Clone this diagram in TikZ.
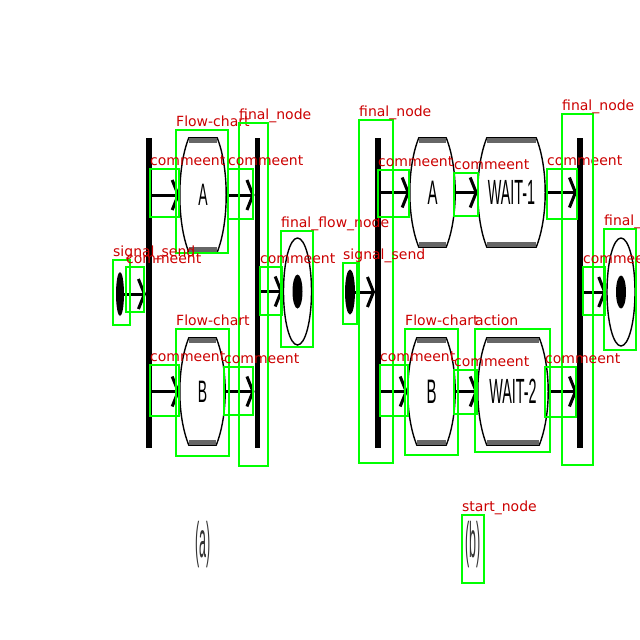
\documentclass[tikz,border=0pt]{standalone}
\usepackage{fontspec}
\setmainfont{Liberation Sans}
\newfontfamily\labfont{DejaVu Sans}
\usetikzlibrary{arrows.meta,calc,shapes.geometric}
\definecolor{annogreen}{RGB}{0,255,0}
\definecolor{annored}{RGB}{204,0,0}
\tikzset{
  barnode/.style={rectangle,fill=black,draw=none,inner sep=0pt,minimum width=5.5pt,minimum height=310pt},
  actnode/.style={rectangle,draw=none,inner sep=0pt},
  barrelline/.style={line width=1.4pt,black},
  capbar/.style={line width=4.5pt,black!60},
  flowline/.style={line width=3pt,-{Straight Barb[length=6pt,width=30pt]}},
  sigshape/.style={ellipse,fill=black,draw=none,inner sep=0pt},
  finouter/.style={ellipse,draw=black,line width=1.4pt,inner sep=0pt},
  fininner/.style={ellipse,fill=black,draw=none,inner sep=0pt},
  annobox/.style={draw=annogreen,line width=2pt},
  annolabel/.style={anchor=base west,inner sep=0pt,text=annored,font=\labfont\fontsize{14}{14}\selectfont},
  caplabel/.style={inner sep=0pt,text=black!80}
}
\newcommand\acttext[3]{\scalebox{#1}[1]{\fontsize{#2}{#2}\selectfont #3}}
\newcommand\drawbarrel[1]{%
  \draw[barrelline] ($(#1.north west)+(9,0)$) -- ($(#1.north east)+(-9,0)$)
    .. controls ($(#1.north east)+(3,30)$) and ($(#1.south east)+(3,-30)$) .. ($(#1.south east)+(-9,0)$)
    -- ($(#1.south west)+(9,0)$)
    .. controls ($(#1.south west)+(-3,-30)$) and ($(#1.north west)+(-3,30)$) .. cycle;
  \draw[capbar] ($(#1.north west)+(9,2.5)$) -- ($(#1.north east)+(-9,2.5)$);
  \draw[capbar] ($(#1.south west)+(9,-2.5)$) -- ($(#1.south east)+(-9,-2.5)$);
}
\newcommand\ann[6]{%
  \draw[annobox] (#2,#3) rectangle (#4,#5);
  \node[annolabel] (#1) at (#2,#3-4) {#6};
}
\begin{document}
\begin{tikzpicture}[x=1pt,y=-1pt]
\useasboundingbox (0,0) rectangle (640,640);
\fill[white] (0,0) rectangle (640,640);

% ---------- diagram (a) ----------
\node[barnode] (fa) at (149,293) {};
\node[barnode] (ja) at (257.5,293) {};
\node[actnode,minimum width=46pt,minimum height=114pt] (aA) at (203,195) {\acttext{0.45}{31}{A}};
\node[actnode,minimum width=45pt,minimum height=107pt] (aB) at (202.5,391.5) {\acttext{0.45}{31}{B}};
\drawbarrel{aA}
\drawbarrel{aB}
\node[sigshape,minimum width=8pt,minimum height=44pt] (as) at (120,294) {};
\node[finouter,minimum width=28pt,minimum height=107pt] (af) at (297.5,291.5) {};
\node[fininner,minimum width=10pt,minimum height=34pt] (afi) at (af.center) {};
\draw[flowline] (fa.east |- aA.west) -- (aA.west);
\draw[flowline] (aA.east) -- (ja.west |- aA.east);
\draw[flowline] (fa.east |- aB.west) -- (aB.west);
\draw[flowline] (aB.east) -- (ja.west |- aB.east);
\draw[flowline] (as.east) -- (as.east -| fa.west);
\draw[flowline] (ja.east |- af.west) -- (af.west);
\node[caplabel] (capa) at (203,545) {\acttext{0.25}{50}{(a)}};

% ---------- diagram (b) ----------
\node[barnode] (fb) at (378,293) {};
\node[barnode] (jb) at (580,293) {};
\node[actnode,minimum width=45pt,minimum height=109pt] (bA) at (432.5,192.5) {\acttext{0.44}{34}{A}};
\node[actnode,minimum width=67pt,minimum height=109pt] (bW1) at (511.5,192.5) {\acttext{0.41}{35}{WAIT-1}};
\node[actnode,minimum width=47pt,minimum height=107pt] (bB) at (431.5,391.5) {\acttext{0.44}{34}{B}};
\node[actnode,minimum width=70pt,minimum height=107pt] (bW2) at (513,391.5) {\acttext{0.41}{35}{WAIT-2}};
\drawbarrel{bA}
\drawbarrel{bW1}
\drawbarrel{bB}
\drawbarrel{bW2}
\node[sigshape,minimum width=10pt,minimum height=45pt] (bs) at (350,292) {};
\node[finouter,minimum width=28pt,minimum height=108pt] (bf) at (621,292) {};
\node[fininner,minimum width=10pt,minimum height=33pt] (bfi) at (bf.center) {};
\draw[flowline] (fb.east |- bA.west) -- (bA.west);
\draw[flowline] (bA.east) -- (bW1.west);
\draw[flowline] (bW1.east) -- (jb.west |- bW1.east);
\draw[flowline] (fb.east |- bB.west) -- (bB.west);
\draw[flowline] (bB.east) -- (bW2.west);
\draw[flowline] (bW2.east) -- (jb.west |- bW2.east);
\draw[flowline] (bs.east) -- (bs.east -| fb.west);
\draw[flowline] (jb.east |- bf.west) -- (bf.west);
\node[caplabel] (capb) at (473,545) {\acttext{0.25}{50}{(b)}};

% ---------- annotations ----------
\ann{l1}{176}{130}{228}{253}{Flow-chart}
\ann{l2}{239}{123}{268}{466}{final\_node}
\ann{l3}{150}{169}{179}{217}{commeent}
\ann{l4}{228}{169}{253}{219}{commeent}
\ann{l5}{113}{260}{130}{325}{signal\_send}
\ann{l6}{126}{267}{144}{312}{commeent}
\ann{l7}{281}{231}{313}{347}{final\_flow\_node}
\ann{l8}{260}{267}{282}{315}{commeent}
\ann{l9}{176}{329}{229}{456}{Flow-chart}
\ann{l10}{150}{365}{179}{416}{commeent}
\ann{l11}{224}{367}{253}{415}{commeent}
\ann{l12}{359}{120}{393}{463}{final\_node}
\ann{l13}{378}{170}{409}{217}{commeent}
\ann{l14}{454}{173}{478}{216}{commeent}
\ann{l15}{547}{169}{577}{219}{commeent}
\ann{l16}{562}{114}{593}{465}{final\_node}
\ann{l17}{604}{229}{636}{350}{final\_flow\_node}
\ann{l18}{583}{267}{605}{315}{commeent}
\ann{l19}{343}{263}{357}{324}{signal\_send}
\ann{l20}{405}{329}{458}{455}{Flow-chart}
\ann{l21}{475}{329}{550}{452}{action}
\ann{l22}{380}{365}{408}{416}{commeent}
\ann{l23}{454}{370}{477}{414}{commeent}
\ann{l24}{545}{367}{576}{417}{commeent}
\ann{l25}{462}{515}{484}{583}{start\_node}
\end{tikzpicture}
\end{document}
